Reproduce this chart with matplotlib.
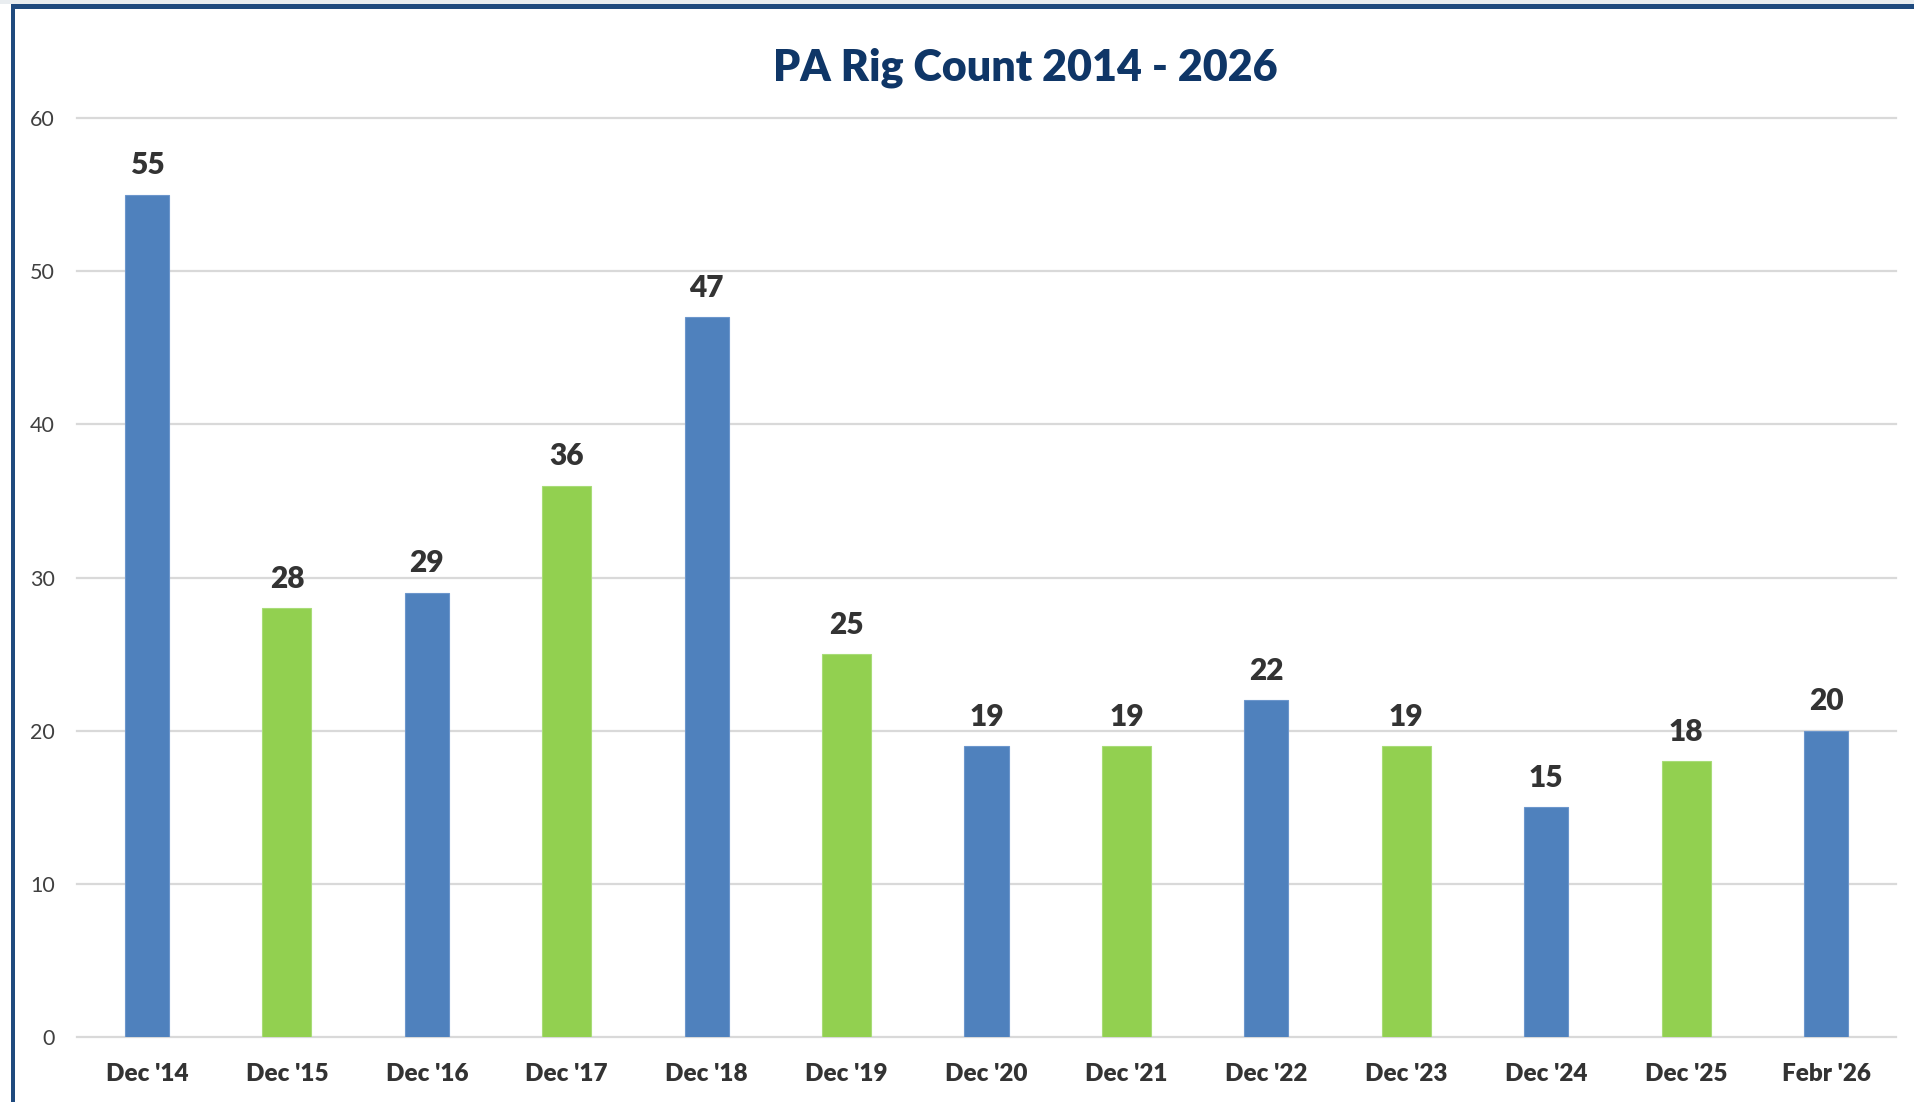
import matplotlib
matplotlib.use("Agg")
import matplotlib.pyplot as plt
from matplotlib.patches import Rectangle

categories = ["Dec '14", "Dec '15", "Dec '16", "Dec '17", "Dec '18", "Dec '19", "Dec '20",
              "Dec '21", "Dec '22", "Dec '23", "Dec '24", "Dec '25", "Febr '26"]
values = [55, 28, 29, 36, 47, 25, 19, 19, 22, 19, 15, 18, 20]
series_kind = ["blue", "green", "blue", "green", "blue", "green", "blue",
               "green", "blue", "green", "blue", "green", "blue"]
title = "PA Rig Count 2014 - 2026"
yticks = [0, 10, 20, 30, 40, 50, 60]

BLUE = "#4F81BD"
GREEN = "#92D050"
FONT = ["Lato", "DejaVu Sans"]

W, H = 1914, 1102
fig = plt.figure(figsize=(W / 100, H / 100), dpi=100)
fig.patch.set_facecolor("white")

ax = fig.add_axes([77 / W, 1 - 1037 / H, (1896 - 77) / W, (1037 - 118) / H])
x = list(range(len(categories)))
for i, (v, k) in enumerate(zip(values, series_kind)):
    if k == "blue":
        ax.bar(i, v, width=0.315, color=BLUE, edgecolor="#6C96CC", linewidth=0.8, zorder=3)
    else:
        ax.bar(i, v, width=0.35, color=GREEN, edgecolor="#A8DC78", linewidth=0.8, zorder=3)
    ax.text(i, v + 1.0, str(v), ha="center", va="bottom", fontsize=21.5, fontweight="heavy",
            color="#333333", family=FONT, clip_on=False, zorder=4)

ax.set_xlim(-0.5, len(categories) - 0.5)
ax.set_ylim(0, 60)
ax.set_yticks(yticks)
ax.set_yticklabels([str(t) for t in yticks], fontsize=15.5, color="#404040", family=FONT)
ax.set_xticks(x)
ax.set_xticklabels(categories, fontsize=17.5, fontweight="heavy", color="#333333", family=FONT)
ax.tick_params(axis="y", length=0, pad=16)
ax.tick_params(axis="x", length=0, pad=18.5)
ax.grid(axis="y", color="#D9D9D9", linewidth=1.6, zorder=0)
for l in ax.get_ygridlines():
    l.set_clip_on(False)
for s in ax.spines.values():
    s.set_visible(False)
ax.set_facecolor("white")

fig.text(1025 / W, 1 - 68 / H, title, ha="center", va="center", fontsize=31,
         fontweight="heavy", color="#0F3667", family=FONT)

# frame border (left and top)
fig.patches.append(Rectangle((0, 1 - 4 / H), 1, 4 / H, transform=fig.transFigure,
                             facecolor="#E9EDF0", edgecolor="none"))
fig.patches.append(Rectangle((11 / W, 1 - 9 / H), 1 - 11 / W, 5 / H, transform=fig.transFigure,
                             facecolor="#1F4A7E", edgecolor="none"))
fig.patches.append(Rectangle((11 / W, 0), 4 / W, 1 - 4 / H, transform=fig.transFigure,
                             facecolor="#1F4A7E", edgecolor="none"))

fig.savefig("out.png", dpi=100, facecolor="white")
